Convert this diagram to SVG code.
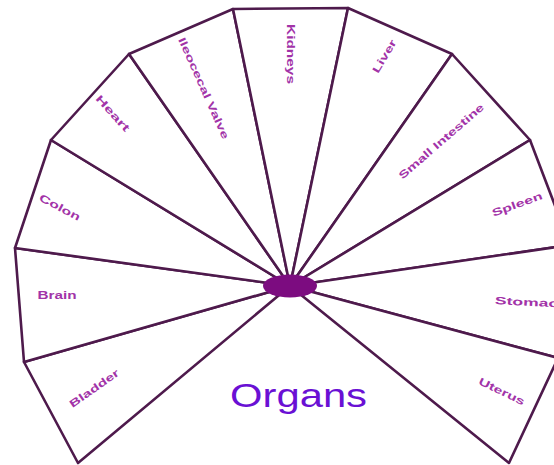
<svg xmlns="http://www.w3.org/2000/svg" width="554" height="465" viewBox="0 0 554 465">
<style>
.seg{fill:#ffffff;stroke:#4e1a4c;stroke-width:2.6;stroke-linejoin:round}
.lbl{font-family:"Liberation Sans",Arial,sans-serif;font-weight:bold;font-size:10.5px;fill:#a233a8;text-anchor:middle;dominant-baseline:central}
.title{font-family:"Liberation Sans",Arial,sans-serif;font-size:33px;fill:#6a10d4}
</style>
<rect width="554" height="465" fill="#ffffff"/>
<g id="bladder"><polygon class="seg" points="290,286 78,463 24,362"/><text class="lbl" transform="translate(94,388) rotate(-35)" textLength="58" lengthAdjust="spacingAndGlyphs">Bladder</text></g>
<g id="brain"><polygon class="seg" points="290,286 24,362 15,248"/><text class="lbl" transform="translate(57,295)" textLength="39" lengthAdjust="spacingAndGlyphs">Brain</text></g>
<g id="colon"><polygon class="seg" points="290,286 15,248 51,140"/><text class="lbl" transform="translate(60,207) rotate(28)" textLength="45" lengthAdjust="spacingAndGlyphs">Colon</text></g>
<g id="heart"><polygon class="seg" points="290,286 51,140 129,54"/><text class="lbl" transform="translate(113,113) rotate(48)" textLength="45" lengthAdjust="spacingAndGlyphs">Heart</text></g>
<g id="ileocecal-valve"><polygon class="seg" points="290,286 129,54 233,9"/><text class="lbl" transform="translate(204,88) rotate(66)" textLength="110" lengthAdjust="spacingAndGlyphs">Ileocecal Valve</text></g>
<g id="kidneys"><polygon class="seg" points="290,286 233,9 348,8"/><text class="lbl" transform="translate(291,54) rotate(90)" textLength="60" lengthAdjust="spacingAndGlyphs">Kidneys</text></g>
<g id="liver"><polygon class="seg" points="290,286 348,8 452,54"/><text class="lbl" transform="translate(384,56) rotate(-59)" textLength="37" lengthAdjust="spacingAndGlyphs">Liver</text></g>
<g id="small-intestine"><polygon class="seg" points="290,286 452,54 530,140"/><text class="lbl" transform="translate(441,141) rotate(-41)" textLength="109" lengthAdjust="spacingAndGlyphs">Small Intestine</text></g>
<g id="spleen"><polygon class="seg" points="290,286 530,140 570,245"/><text class="lbl" transform="translate(517,204) rotate(-20)" textLength="53" lengthAdjust="spacingAndGlyphs">Spleen</text></g>
<g id="stomach"><polygon class="seg" points="290,286 570,245 558,358"/><text class="lbl" transform="translate(532,302) rotate(3)" textLength="74" lengthAdjust="spacingAndGlyphs">Stomach</text></g>
<g id="uterus"><polygon class="seg" points="290,286 558,358 509,463"/><text class="lbl" transform="translate(502,391) rotate(26)" textLength="50" lengthAdjust="spacingAndGlyphs">Uterus</text></g>
<g id="hub"><ellipse cx="290" cy="286" rx="27" ry="11.5" fill="#7c0c80"/></g>
<text class="title" x="230" y="407" textLength="137" lengthAdjust="spacingAndGlyphs">Organs</text>
</svg>
